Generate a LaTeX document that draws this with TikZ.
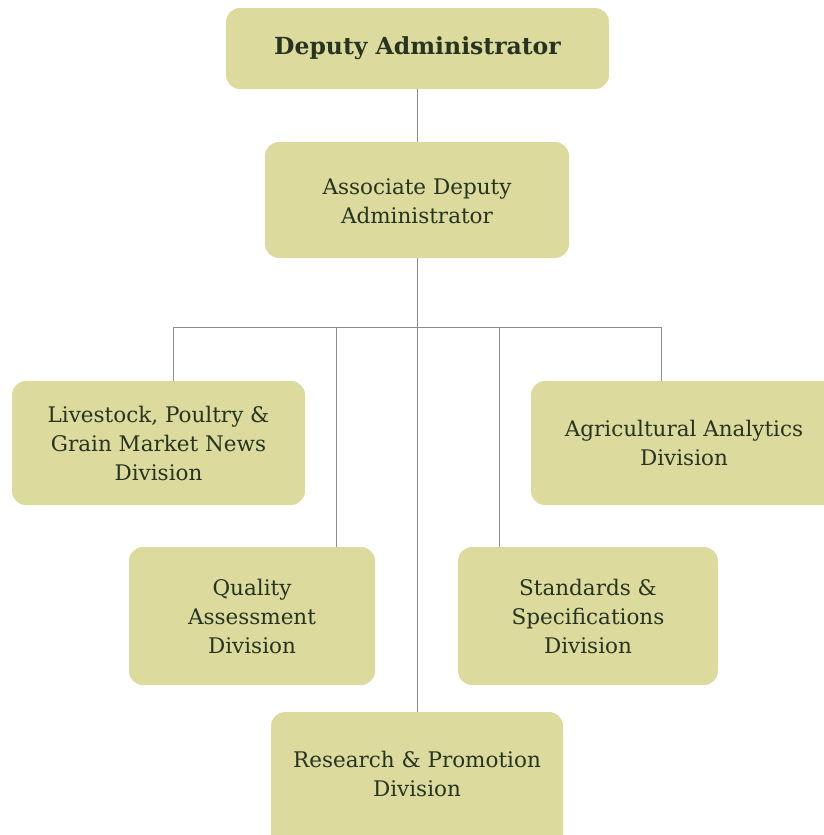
\documentclass[tikz,border=0pt]{standalone}
\usepackage{fontspec}
\setmainfont{DejaVu Serif}
\definecolor{boxfill}{RGB}{220,219,157}
\definecolor{txt}{RGB}{38,52,33}
\definecolor{ln}{RGB}{140,140,140}
\begin{document}
\begin{tikzpicture}[x=1pt,y=-1pt,
  box/.style={draw=none,fill=boxfill,rounded corners=14pt},
  lbl/.style={text=txt,align=center,font=\fontsize{21.5}{29}\selectfont},
  conn/.style={draw=ln,line width=1pt}]
\useasboundingbox (0,0) rectangle (824,835);
\clip (0,0) rectangle (824,835);
% boxes
\fill[box] (226,8) rectangle (609,89);
\node[lbl,font=\fontsize{23.5}{29}\selectfont\bfseries] (da) at (417.5,48.5) {Deputy Administrator};
\fill[box] (265,142) rectangle (569,258);
\node[lbl] (ada) at (417,201) {Associate Deputy\\Administrator};
\fill[box] (12,381) rectangle (305,505);
\node[lbl] (lp) at (158.5,443) {Livestock, Poultry \&\\Grain Market News\\Division};
\fill[box] (531,381) rectangle (840,505);
\node[lbl] (aa) at (684,443) {Agricultural Analytics\\Division};
\fill[box] (129,547) rectangle (375,685);
\node[lbl] (qa) at (252,616) {Quality\\Assessment\\Division};
\fill[box] (458,547) rectangle (718,685);
\node[lbl] (ss) at (588,616) {Standards \&\\Specifications\\Division};
\fill[box] (271,712) rectangle (563,850);
\node[lbl] (rp) at (417,774) {Research \& Promotion\\Division};
% connector anchors
\coordinate (daB) at (417,89);
\coordinate (adaT) at (417,142);
\coordinate (adaB) at (417,258);
\coordinate (busL) at (173,327);
\coordinate (busR) at (661,327);
\coordinate (lpT) at (173,381);
\coordinate (aaT) at (661,381);
\coordinate (qaB) at (336,327);
\coordinate (qaT) at (336,547);
\coordinate (ssB) at (499,327);
\coordinate (ssT) at (499,547);
\coordinate (rpT) at (417,712);
\draw[conn] (daB) -- (adaT);
\draw[conn] (adaB) -- (rpT);
\draw[conn] (lpT) -- (busL) -- (busR) -- (aaT);
\draw[conn] (qaB) -- (qaT);
\draw[conn] (ssB) -- (ssT);
\end{tikzpicture}
\end{document}
